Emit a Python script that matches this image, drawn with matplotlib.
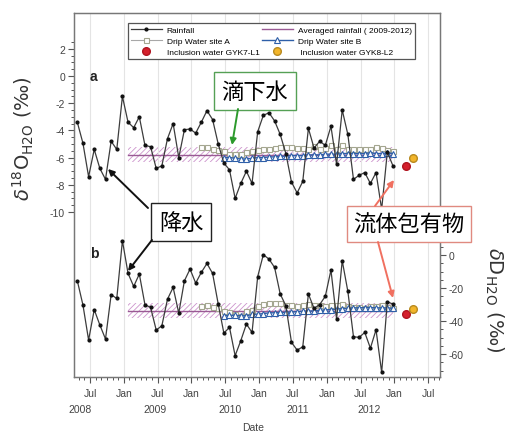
import matplotlib
matplotlib.use('Agg')
import matplotlib.pyplot as plt
from matplotlib.patches import FancyArrowPatch
from matplotlib.ticker import FixedLocator
import numpy as np

plt.rcParams['axes.unicode_minus'] = False
plt.rcParams['hatch.linewidth'] = 0.6

# monthly samples, x in months (Jul 2008 = 6)
rain_x = np.arange(57) + 3.75
rain_d18o = [-3.4, -4.95, -7.4, -5.4, -6.8, -7.6, -4.8, -5.4, -1.5, -3.4,
             -3.8, -3.0, -5.1, -5.2, -6.8, -6.6, -4.6, -3.5, -6.0, -3.95,
             -3.9, -4.2, -3.4, -2.55, -3.2, -5.0, -6.4, -6.9, -9.0, -7.9,
             -7.0, -7.9, -4.1, -2.9, -2.7, -3.3, -4.3, -5.7, -7.8, -8.6,
             -7.75, -3.85, -5.3, -4.8, -5.1, -3.7, -6.5, -2.5, -4.3, -7.6,
             -7.3, -7.1, -7.9, -7.1, -9.8, -5.6, -6.6]
rain_dd = [-15.6, -30.3, -51.5, -33.1, -42.4, -50.9, -24.0, -26.3, 8.7, -11.1,
           -19.0, -11.5, -30.1, -31.7, -45.5, -42.8, -26.7, -19.6, -35.2, -15.6,
           -8.5, -17.0, -10.5, -5.1, -11.1, -29.7, -47.3, -43.8, -61.0, -51.9,
           -41.8, -46.9, -13.1, 0.2, -2.4, -7.5, -23.6, -30.7, -52.9, -57.6,
           -55.6, -23.6, -32.3, -30.0, -25.0, -9.1, -38.8, -3.4, -22.0, -49.5,
           -49.9, -46.9, -56.4, -45.3, -71.1, -28.3, -29.7]

drip_a_x = rain_x[22:]
drip_a_d18o = [-5.25, -5.25, -5.35, -5.45, -5.5, -5.7, -5.75, -5.75, -5.6, -5.55,
               -5.45, -5.4, -5.35, -5.3, -5.25, -5.2, -5.25, -5.3, -5.3, -5.35,
               -5.15, -5.35, -5.3, -5.1, -5.35, -5.05, -5.4, -5.35, -5.4, -5.4,
               -5.35, -5.2, -5.3, -5.45, -5.5]
drip_a_dd = [-30.7, -30.1, -31.3, -32.3, -33.7, -34.8, -35.8, -36.8, -33.9, -33.3,
             -30.7, -29.7, -28.9, -29.3, -28.9, -30.0, -30.0, -30.7, -30.5, -29.5,
             -30.5, -30.0, -31.0, -30.0, -30.5, -29.5, -31.0, -31.5, -31.5, -32.0,
             -31.0, -31.0, -30.5, -31.5, -32.3]

drip_b_x = rain_x[26:]
drip_b_d18o = [-6.0, -6.0, -6.05, -6.1, -6.1, -6.05, -6.0, -6.0, -5.95, -5.95,
               -5.9, -5.9, -5.85, -5.85, -5.85, -5.8, -5.8, -5.8, -5.75, -5.75,
               -5.75, -5.7, -5.7, -5.7, -5.7, -5.7, -5.65, -5.7, -5.7, -5.65, -5.7]
drip_b_dd = [-36.8, -36.5, -36.5, -36.8, -36.8, -36.0, -35.8, -35.5, -35.0, -35.0,
             -34.8, -34.8, -34.5, -34.3, -34.0, -34.0, -33.8, -33.5, -33.3, -33.0,
             -32.8, -32.5, -32.3, -32.0, -32.0, -31.8, -31.8, -32.0, -32.0, -32.0, -32.3]

avg_x = [12.75, 59.75]
avg_d18o, avg_d18o_sd = -5.8, 0.55
avg_dd, avg_dd_sd = -33.75, 4.45

incl_x = [62.15, 63.35]
incl_d18o = [-6.6, -6.0]
incl_dd = [-35.8, -32.7]

month_ticks = [6, 12, 18, 24, 30, 36, 42, 48, 54, 60, 66]
month_labels = ['Jul', 'Jan', 'Jul', 'Jan', 'Jul', 'Jan', 'Jul', 'Jan', 'Jul', 'Jan', 'Jul']
year_pos = [4.3, 17.5, 30.8, 42.9, 55.6]
year_labels = ['2008', '2009', '2010', '2011', '2012']

W, H = 507, 435


def px(x, y):
    return x / W, 1 - y / H


fig = plt.figure(figsize=(W / 100, H / 100), dpi=100)
ax = fig.add_axes([74 / W, 1 - 378 / H, 366 / W, 364 / H])
ax2 = ax.twinx()

ax.set_xlim(3.16, 68.1)
ax.set_ylim(-22.13, 4.63)
ax2.set_ylim(-73.9, 146.7)

ax.grid(axis='x', color='#e4e4e4', lw=0.8, zorder=0)

tick_font = {'family': 'Liberation Sans', 'size': 7.5}


def draw_panel(a, rain, da, db, avg, sd, incl):
    a.fill_between(avg_x, avg - sd, avg + sd, facecolor='none', edgecolor='#cc94cc',
                   hatch='//////', lw=0, zorder=1)
    a.plot(avg_x, [avg, avg], color='#9a5a94', lw=1.0, zorder=2,
           label='Averaged rainfall ( 2009-2012)')
    a.plot(rain_x, rain, color='#3c3c3c', lw=0.9, marker='o', ms=2,
           mfc='#111111', mec='#111111', zorder=5, label='Rainfall')
    a.plot(drip_a_x, da, color='#a8a8a8', lw=0.8, marker='s', ms=3.6,
           mfc='white', mec='#a4a690', mew=0.8, zorder=3, label='Drip Water site A')
    a.plot(drip_b_x, db, color='#2e5fa8', lw=1.0, marker='^', ms=3.8,
           mfc='white', mec='#2e5fa8', mew=0.8, zorder=4, label='Drip Water site B')
    a.plot(incl_x[0], incl[0], 'o', ms=5.5, mfc='#d4202c', mec='#b01520',
           zorder=6, label='Inclusion water GYK7-L1')
    a.plot(incl_x[1], incl[1], 'o', ms=5.5, mfc='#f2b52a', mec='#b88a20',
           zorder=6, label=' Inclusion water GYK8-L2')


draw_panel(ax, rain_d18o, drip_a_d18o, drip_b_d18o, avg_d18o, avg_d18o_sd, incl_d18o)
draw_panel(ax2, rain_dd, drip_a_dd, drip_b_dd, avg_dd, avg_dd_sd, incl_dd)

# ticks
ax.set_xticks(month_ticks)
ax.set_xticklabels(month_labels, fontdict=tick_font)
ax.xaxis.set_minor_locator(FixedLocator(np.arange(4, 69)))
ax.set_yticks([-10, -8, -6, -4, -2, 0, 2])
ax.set_yticklabels(['-10', '-8', '-6', '-4', '-2', '0', '2'], fontdict=tick_font)
ax.yaxis.set_minor_locator(FixedLocator(np.arange(-10, 2.6, 0.5)))
ax2.set_yticks([-60, -40, -20, 0])
ax2.set_yticklabels(['-60', '-40', '-20', '0'], fontdict=tick_font)
ax2.yaxis.set_minor_locator(FixedLocator(np.arange(-70, 10.1, 5)))

for a in (ax, ax2):
    a.tick_params(which='major', direction='out', length=4, width=0.8,
                  color='#555555', labelcolor='#444444', pad=2.5)
    a.tick_params(which='minor', direction='out', length=2.5, width=0.7,
                  color='#555555')
    for s in a.spines.values():
        s.set_color('#777777')
        s.set_linewidth(0.9)
ax.tick_params(axis='x', pad=4)

for yp, yl in zip(year_pos, year_labels):
    ax.text(yp, -0.088, yl, transform=ax.get_xaxis_transform(), ha='center',
            va='center', color='#444444', **tick_font)

fig.text(*px(253, 428), 'Date', ha='center', va='center', color='#444444',
         family='Liberation Sans', fontsize=7.5)

# legend
h, l = ax.get_legend_handles_labels()
order = [1, 2, 4, 0, 3, 5]
leg = ax2.legend([h[i] for i in order], [l[i] for i in order], ncol=2,
                 loc='upper left', bbox_to_anchor=(0.136, 0.984),
                 prop={'family': 'Liberation Sans', 'size': 6.0},
                 handlelength=3.7, handletextpad=0.6, columnspacing=0.3,
                 labelspacing=0.4, borderpad=0.35, fancybox=False,
                 framealpha=1, edgecolor='#555555')
leg.get_frame().set_linewidth(0.9)
leg.set_zorder(10)

# panel letters
fig.text(*px(93, 77), 'a', ha='center', va='center', fontsize=10,
         fontweight='bold', family='Liberation Sans', color='#222222')
fig.text(*px(94, 254), 'b', ha='center', va='center', fontsize=10,
         fontweight='bold', family='Liberation Sans', color='#222222')

# axis titles
fig.text(*px(23, 139), r'$\delta^{18}$O$_{\mathrm{H2O}}$ (‰)', rotation=90,
         ha='center', va='center', fontsize=14, color='#333333')
fig.text(*px(494, 300), r'$\delta$D$_{\mathrm{H2O}}$ (‰)', rotation=-90,
         ha='center', va='center', fontsize=14, color='#333333')

# annotation boxes
cjk = ['Noto Sans CJK JP', 'DejaVu Sans']
fig.text(*px(255, 92), '滴下水', ha='center', va='center', fontsize=16, family=cjk,
         bbox=dict(boxstyle='square,pad=0.33', fc='white', ec='#55a055', lw=1.0))
fig.text(*px(181, 223), '降水', ha='center', va='center', fontsize=16, family=cjk,
         bbox=dict(boxstyle='square,pad=0.33', fc='white', ec='#222222', lw=1.0))
fig.text(*px(409, 225), '流体包有物', ha='center', va='center', fontsize=16, family=cjk,
         bbox=dict(boxstyle='square,pad=0.3', fc='white', ec='#e08a80', lw=1.0))

arrows = [
    ((238, 110), (232, 146), '#2c9a2c'),
    ((148, 209), (108, 170), '#111111'),
    ((152, 241), (128, 272), '#111111'),
    ((375, 207), (394, 181), '#f07060'),
    ((378, 243), (393, 299), '#f07060'),
]
for start, end, col in arrows:
    fig.add_artist(FancyArrowPatch(px(*start), px(*end), transform=fig.transFigure,
                                   arrowstyle='-|>', mutation_scale=9, color=col,
                                   lw=1.4, shrinkA=0, shrinkB=0, zorder=8))

fig.savefig('out.png', dpi=100)
